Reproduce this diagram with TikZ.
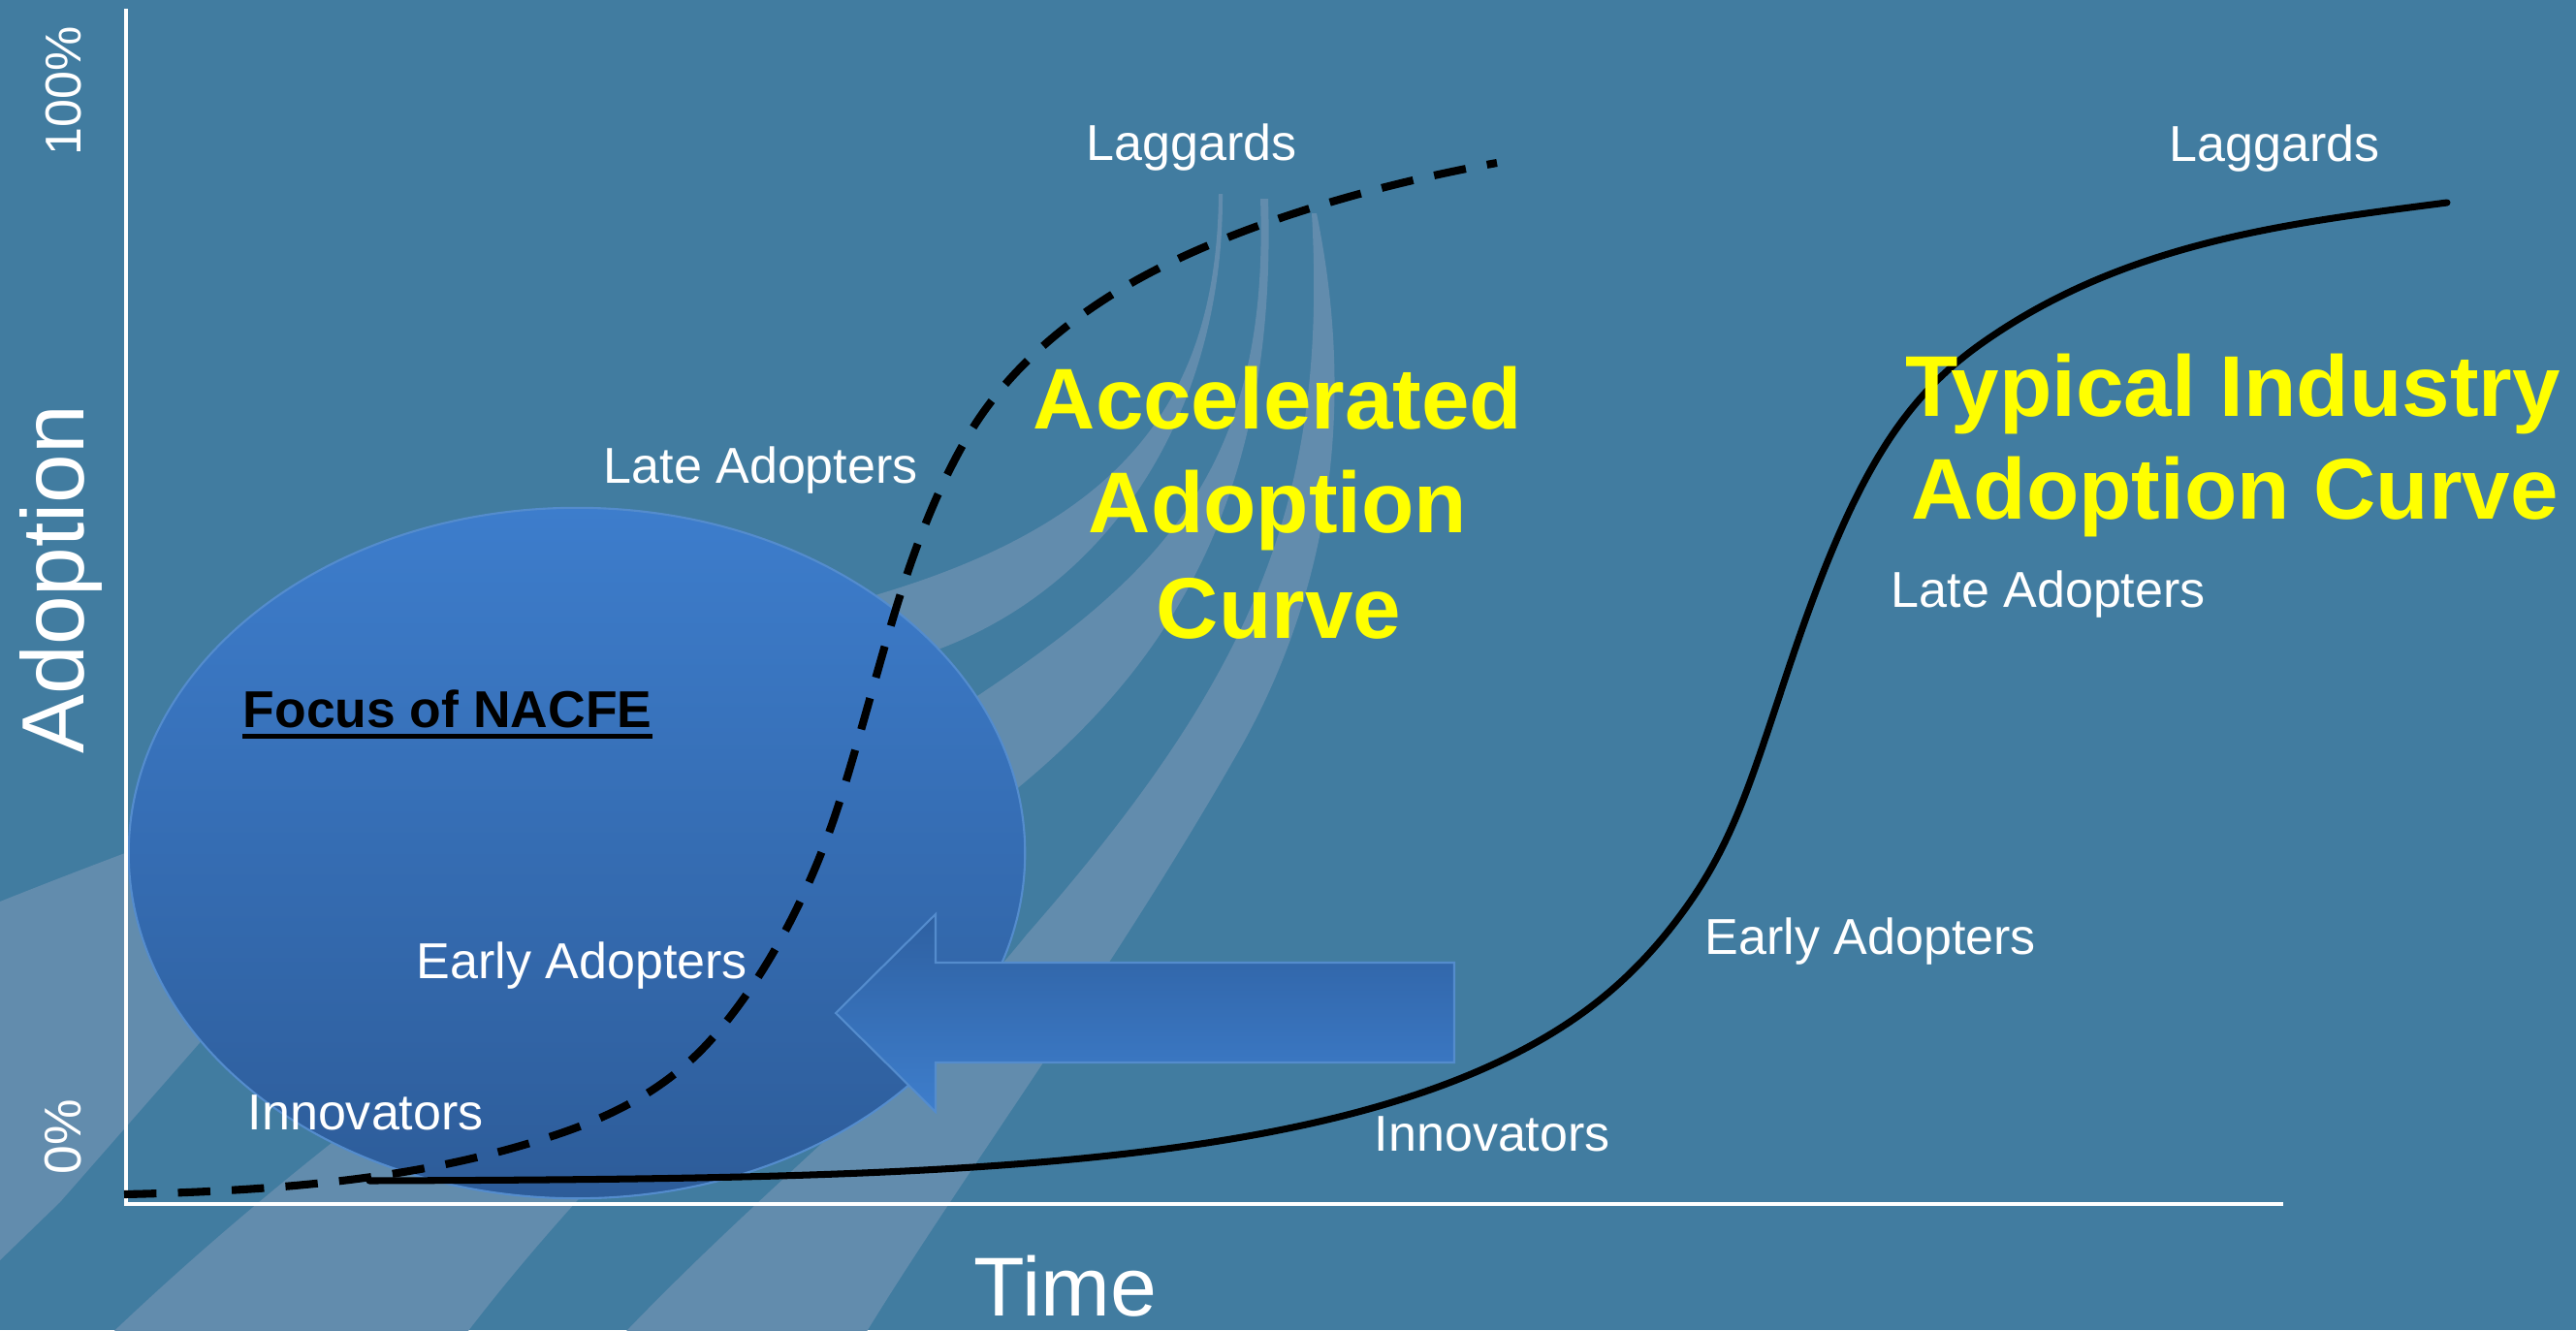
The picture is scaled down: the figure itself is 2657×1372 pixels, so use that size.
\documentclass[tikz,border=0pt]{standalone}
\usepackage{fontspec}
\setmainfont{Liberation Sans}
\usetikzlibrary{shapes.geometric}
\definecolor{bgc}{RGB}{65,124,160}
\definecolor{bandc}{RGB}{98,140,173}
\definecolor{elltop}{RGB}{61,125,204}
\definecolor{ellbot}{RGB}{45,92,153}
\definecolor{arrtop}{RGB}{46,96,161}
\definecolor{arrbot}{RGB}{62,126,204}
\definecolor{edgec}{RGB}{84,140,205}
\definecolor{hiyel}{RGB}{255,255,0}
\begin{document}
\begin{tikzpicture}[x=0.01cm, y=-0.01cm,
  lbl/.style={text=white, inner sep=0pt, anchor=base west, font=\fontsize{14.8pt}{17pt}\selectfont},
  bigyel/.style={text=hiyel, inner sep=0pt, anchor=base, font=\bfseries\fontsize{25.3pt}{30pt}\selectfont},
  axislbl/.style={text=white, inner sep=0pt, anchor=base west, rotate=90},
  band/.style={fill=bandc},
  axisline/.style={white, line width=1.2pt},
  accel/.style={black, line width=2.3pt, dash pattern=on 9.5pt off 6.3pt},
  typical/.style={black, line width=2pt, line cap=round},
]
% background
\fill[bgc] (0,0) rectangle (2657,1372);
\useasboundingbox (0,0) rectangle (2657,1372);

% swoosh bands
\fill[band] (1257,200) .. controls (1255,420) and (1150,540) .. (906,613)
  .. controls (700,680) and (300,810) .. (0,930) -- (0,1057)
  .. controls (300,940) and (700,760) .. (970,669)
  .. controls (1150,600) and (1262,420) .. (1261,200) -- cycle;
\fill[band] (1300,205) .. controls (1310,480) and (1200,590) .. (1008,718)
  .. controls (750,890) and (400,1100) .. (100,1390) -- (470,1390)
  .. controls (650,1150) and (900,940) .. (1046,816)
  .. controls (1200,690) and (1318,520) .. (1308,205) -- cycle;
\fill[band] (1353,220) .. controls (1370,520) and (1290,700) .. (1059,964)
  .. controls (950,1100) and (780,1230) .. (630,1390) -- (884,1390)
  .. controls (980,1230) and (1150,1000) .. (1282,767)
  .. controls (1380,590) and (1395,400) .. (1358,220) -- cycle;
\fill[band] (0,1050) -- (330,860) -- (360,900) -- (62,1240) -- (0,1300) -- cycle;

% focus ellipse
\node[ellipse, inner sep=0pt, minimum width=9.24cm, minimum height=7.12cm,
  top color=elltop, bottom color=ellbot, draw=edgec, line width=0.6pt] (focusarea) at (595,880) {};

% block arrow
\shadedraw[top color=arrtop, bottom color=arrbot, draw=edgec, line width=0.6pt]
  (862,1045) -- (965,943) -- (965,993) -- (1500,993) -- (1500,1096) -- (965,1096) -- (965,1147) -- cycle;

% axes
\coordinate (ytop) at (130,9);
\coordinate (origin) at (130,1242);
\coordinate (xend) at (2355,1242);
\draw[axisline] (ytop) -- (origin) -- (xend);

% accelerated adoption curve (dashed)
\draw[accel] (128,1232) .. controls (308,1228) and (440,1213) .. (560,1175)
  .. controls (640,1150) and (695,1118) .. (740,1065)
  .. controls (790,1006) and (835,923) .. (865,830)
  .. controls (885,768) and (905,690) .. (925,625)
  .. controls (950,544) and (975,489) .. (1000,447)
  .. controls (1033,392) and (1085,342) .. (1150,302)
  .. controls (1245,243) and (1394,195) .. (1544,168);
% typical industry adoption curve (solid)
\draw[typical] (381,1218) .. controls (881,1216) and (1290,1213) .. (1540,1098)
  .. controls (1620,1061) and (1682,1015) .. (1737,939)
  .. controls (1787,870) and (1805,809) .. (1843,695)
  .. controls (1907,502) and (1957,417) .. (2040,357)
  .. controls (2190,249) and (2363,230) .. (2524,209);

% labels
\node[lbl] (lagA) at (1120,165) {Laggards};
\node[lbl] (lagB) at (2237,166) {Laggards};
\node[lbl] (lateA) at (622,498) {Late Adopters};
\node[lbl] (lateB) at (1950,626) {Late Adopters};
\node[lbl] (earlyA) at (429,1009) {Early Adopters};
\node[lbl] (earlyB) at (1758,984) {Early Adopters};
\node[lbl] (innA) at (255,1165) {Innovators};
\node[lbl] (innB) at (1417,1187) {Innovators};
\node[lbl, text=black, font=\bfseries\fontsize{15.2pt}{17pt}\selectfont] (focus) at (250,750) {Focus of NACFE};
\draw[black, line width=1.3pt] ([yshift=-2.7pt]focus.base west) -- ([yshift=-2.7pt]focus.base east);

\node[bigyel] (acc1) at (1318,442) {Accelerated};
\node[bigyel] (acc2) at (1318,549) {Adoption};
\node[bigyel] (acc3) at (1319,658) {Curve};
\node[bigyel] (typ1) at (2303,429) {Typical Industry};
\node[bigyel] (typ2) at (2305,535) {Adoption Curve};

\node[axislbl, font=\fontsize{14.8pt}{17pt}\selectfont] (pct100) at (83,161) {100\%};
\node[axislbl, font=\fontsize{15.2pt}{17pt}\selectfont] (pct0) at (83,1212) {0\%};
\node[axislbl, font=\fontsize{25.9pt}{30pt}\selectfont] (yaxlbl) at (87,778) {Adoption};
\node[text=white, inner sep=0pt, anchor=base, font=\fontsize{24.5pt}{28pt}\selectfont] (xaxlbl) at (1099,1357) {Time};
\end{tikzpicture}
\end{document}
